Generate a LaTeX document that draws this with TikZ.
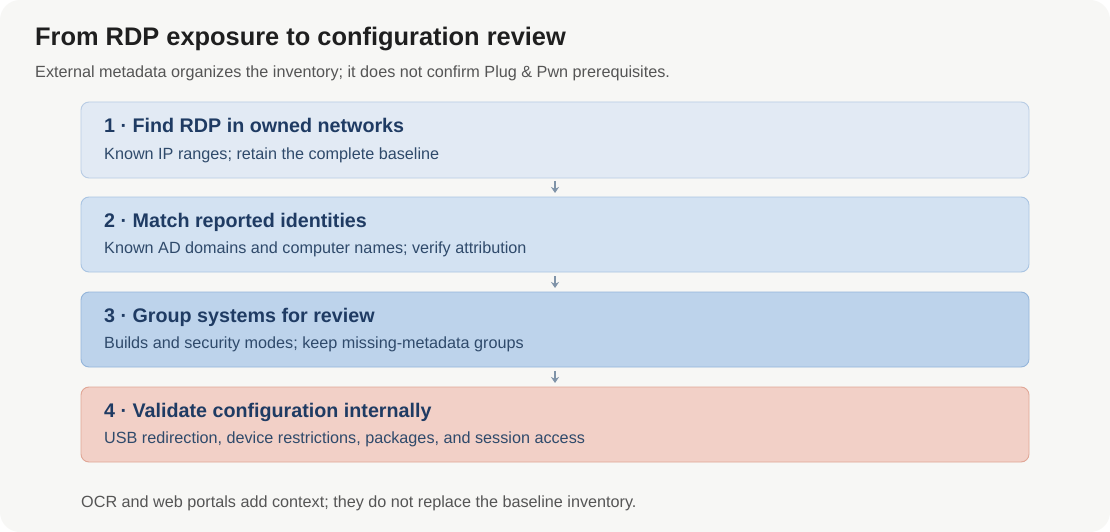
\documentclass[tikz,border=0pt]{standalone}
\usepackage{fontspec}
\setmainfont{Liberation Sans}
\usetikzlibrary{arrows.meta}
\definecolor{bg}{HTML}{F7F7F5}
\definecolor{titlec}{HTML}{1F1F1F}
\definecolor{subc}{HTML}{555555}
\definecolor{navy}{HTML}{1F3B63}
\definecolor{boxtext}{HTML}{2F4A6B}
\definecolor{fillA}{HTML}{E2EAF4}
\definecolor{drawA}{HTML}{B8CCE4}
\definecolor{fillB}{HTML}{D3E2F2}
\definecolor{drawB}{HTML}{A9C4E2}
\definecolor{fillC}{HTML}{BDD3EB}
\definecolor{drawC}{HTML}{94B5DA}
\definecolor{fillD}{HTML}{F2D0C7}
\definecolor{drawD}{HTML}{E0A696}
\definecolor{arrc}{HTML}{7F93A8}
\tikzset{
  stepbox/.style={rounded corners=8pt, line width=0.9pt},
  boxtitle/.style={anchor=base west, inner sep=0pt, font=\fontsize{19.7}{22}\selectfont\bfseries, text=navy},
  boxsub/.style={anchor=base west, inner sep=0pt, font=\fontsize{16.2}{19}\selectfont, text=boxtext},
  flowarrow/.style={-{Stealth[length=6pt,width=8pt]}, arrc, line width=1.4pt}
}
\begin{document}
\begin{tikzpicture}[x=1pt,y=-1pt]
\fill[white] (0,0) rectangle (1110,532);
\useasboundingbox (0,0) rectangle (1110,532);
\fill[bg, rounded corners=20pt] (0,0) rectangle (1110,532);
\node[anchor=base west, inner sep=0pt, font=\fontsize{25.4}{30}\selectfont\bfseries, text=titlec] (title) at (35,46) {From RDP exposure to configuration review};
\node[anchor=base west, inner sep=0pt, font=\fontsize{16.2}{19}\selectfont, text=subc] (subtitle) at (35,78) {External metadata organizes the inventory; it does not confirm Plug \& Pwn prerequisites.};

\draw[stepbox, fill=fillA, draw=drawA] (81,102) rectangle (1029,178);
\node[boxtitle] (t1) at (104,132) {1 · Find RDP in owned networks};
\node[boxsub] (s1) at (104,159) {Known IP ranges; retain the complete baseline};

\draw[stepbox, fill=fillB, draw=drawB] (81,197) rectangle (1029,272);
\node[boxtitle] (t2) at (104,227) {2 · Match reported identities};
\node[boxsub] (s2) at (104,253) {Known AD domains and computer names; verify attribution};

\draw[stepbox, fill=fillC, draw=drawC] (81,292) rectangle (1029,367);
\node[boxtitle] (t3) at (104,322) {3 · Group systems for review};
\node[boxsub] (s3) at (104,348) {Builds and security modes; keep missing-metadata groups};

\draw[stepbox, fill=fillD, draw=drawD] (81,387) rectangle (1029,462);
\node[boxtitle] (t4) at (104,417) {4 · Validate configuration internally};
\node[boxsub] (s4) at (104,443) {USB redirection, device restrictions, packages, and session access};

\coordinate (a1s) at (555,181); \coordinate (a1e) at (555,193);
\coordinate (a2s) at (555,276); \coordinate (a2e) at (555,288);
\coordinate (a3s) at (555,371); \coordinate (a3e) at (555,383);
\draw[flowarrow] (a1s) -- (a1e);
\draw[flowarrow] (a2s) -- (a2e);
\draw[flowarrow] (a3s) -- (a3e);

\node[anchor=base west, inner sep=0pt, font=\fontsize{16.2}{19}\selectfont, text=subc] (footer) at (81,507) {OCR and web portals add context; they do not replace the baseline inventory.};
\end{tikzpicture}
\end{document}
